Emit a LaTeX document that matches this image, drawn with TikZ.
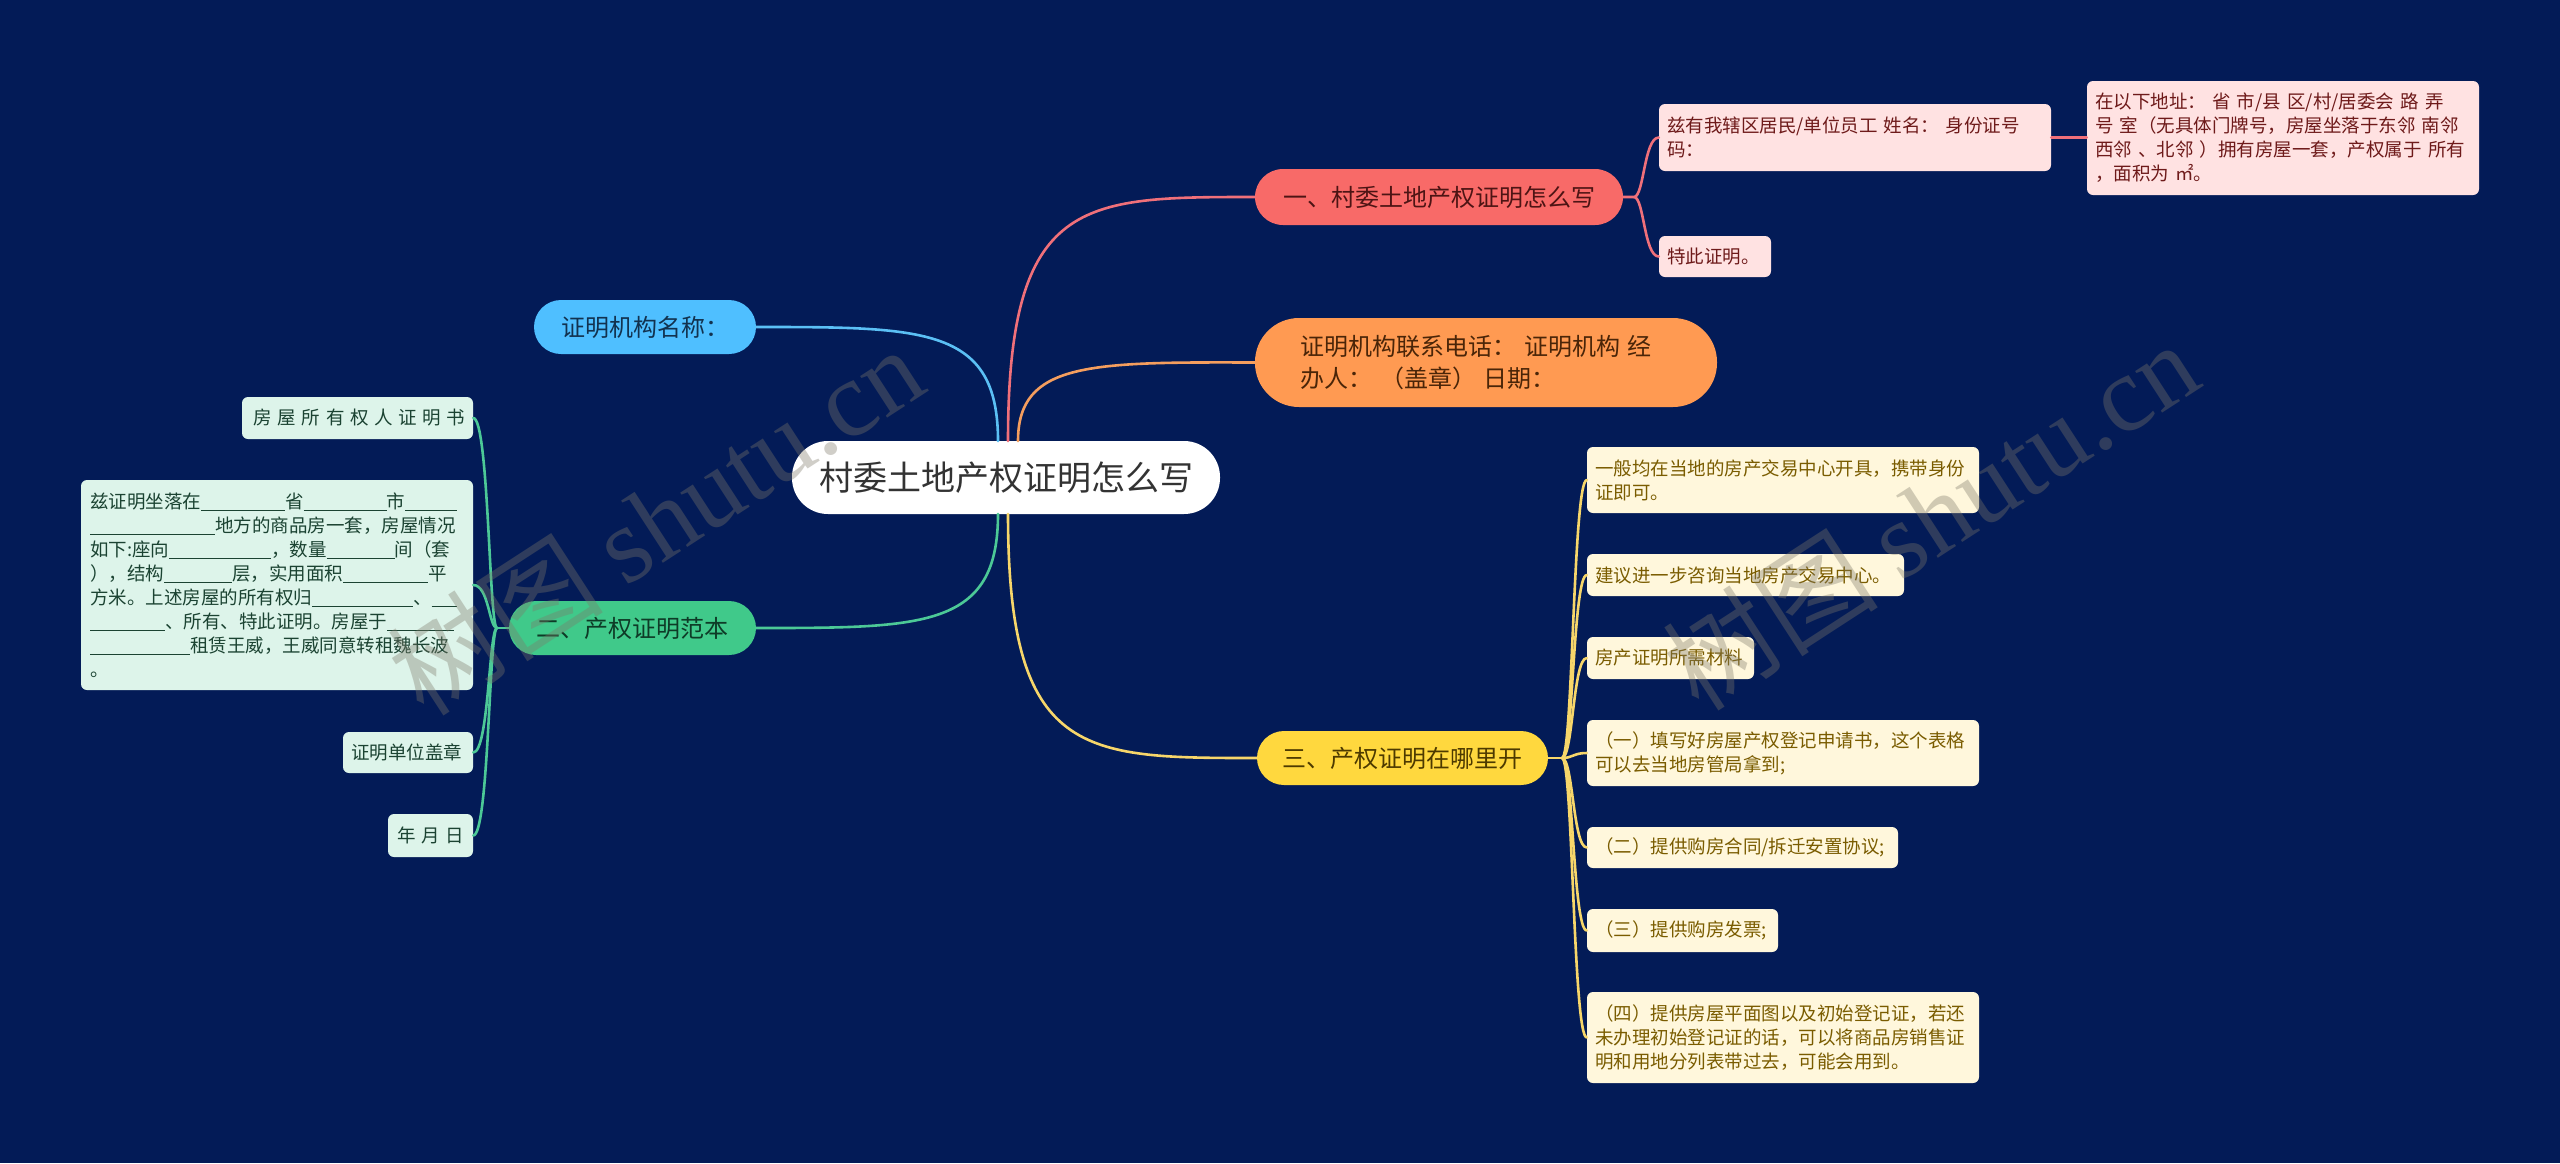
\documentclass[tikz,border=0pt]{standalone}
\usepackage{fontspec}
\setmainfont{Noto Sans CJK SC}
\newfontfamily\wmserif{Liberation Serif}
\definecolor{bg}{HTML}{031B57}
\definecolor{redmain}{HTML}{F86A68}
\definecolor{redtxt}{HTML}{4D1414}
\definecolor{redfill}{HTML}{FFE2E2}
\definecolor{redctxt}{HTML}{6E1A1A}
\definecolor{redline}{HTML}{F0707A}
\definecolor{orgmain}{HTML}{FF9A52}
\definecolor{orgtxt}{HTML}{4A2508}
\definecolor{orgline}{HTML}{F59E5E}
\definecolor{yelmain}{HTML}{FFD83E}
\definecolor{yeltxt}{HTML}{4D3A00}
\definecolor{yelfill}{HTML}{FFF7DC}
\definecolor{yelctxt}{HTML}{7A5C00}
\definecolor{yelline}{HTML}{F7D66A}
\definecolor{blumain}{HTML}{4FBFFF}
\definecolor{blutxt}{HTML}{12324F}
\definecolor{bluline}{HTML}{5BC0F5}
\definecolor{grnmain}{HTML}{40C98A}
\definecolor{grntxt}{HTML}{0E3B27}
\definecolor{grnfill}{HTML}{DDF4EA}
\definecolor{grnctxt}{HTML}{1B4332}
\definecolor{grnline}{HTML}{4CC997}
\definecolor{wmcol}{RGB}{125,120,105}
\newcommand\blank[1]{\rule[-2.5pt]{#1pt}{1pt}}
\newcommand\chsp{\hspace{5.6pt}}
\begin{document}
\begin{tikzpicture}[x=1pt,y=-1pt,
  pill/.style={inner ysep=0pt, align=center, font=\fontsize{24}{32}\selectfont},
  small/.style={inner xsep=8pt, inner ysep=0pt, align=left, rounded corners=6pt, font=\fontsize{18.5}{24}\selectfont},
  conn/.style={line width=2.6pt, line cap=round},
  wm/.style={text=wmcol, text opacity=0.36, rotate=33, font=\fontsize{108}{108}\selectfont}
]
\fill[bg] (0,0) rectangle (2560,1163);
\useasboundingbox (0,0) rectangle (2560,1163);

% central
\node[fill=white, rounded corners=36pt, minimum width=428pt, minimum height=73pt, inner sep=0pt,
  text=black!80, font=\fontsize{34}{40}\selectfont] (c) at (1006,477.5) {村委土地产权证明怎么写};

% main nodes
\node[pill, fill=redmain, text=redtxt, rounded corners=28pt, minimum width=368pt, minimum height=56pt] (n1) at (1439,197) {一、村委土地产权证明怎么写};
\node[pill, fill=orgmain, text=orgtxt, rounded corners=44pt, text width=372pt, inner xsep=45pt, minimum height=89pt, align=left] (n2) at (1486,362.5) {证明机构联系电话： 证明机构 经\\办人： （盖章） 日期：};
\node[pill, fill=yelmain, text=yeltxt, rounded corners=27pt, minimum width=291pt, minimum height=54pt] (n3) at (1402.5,758) {三、产权证明在哪里开};
\node[pill, fill=blumain, text=blutxt, rounded corners=27pt, minimum width=222pt, minimum height=54pt] (n4) at (645,327) {证明机构名称：};
\node[pill, fill=grnmain, text=grntxt, rounded corners=27pt, minimum width=247pt, minimum height=54pt] (n5) at (632.5,628) {二、产权证明范本};

% main connectors
\draw[conn, redline] (1008,441) .. controls (1008,197) and (1082,197) .. (n1.west);
\draw[conn, orgline] (1018,441) .. controls (1018,362) and (1090,362) .. (n2.west);
\draw[conn, bluline] (998,441) .. controls (998,327) and (925,327) .. (n4.east);
\draw[conn, grnline] (998,514) .. controls (998,628) and (925,628) .. (n5.east);
\draw[conn, yelline] (1008,514) .. controls (1008,758) and (1083,758) .. (n3.west);

% red children
\node[small, fill=redfill, text=redctxt, text width=376pt, minimum height=67pt] (r1) at (1855,137.5) {兹有我辖区居民/单位员工 姓名： 身份证号\\码：};
\node[small, fill=redfill, text=redctxt, text width=96pt, minimum height=41pt] (r2) at (1715,256.5) {特此证明。};
\node[small, fill=redfill, text=redctxt, text width=376pt, minimum height=114pt] (r3) at (2283,138) {在以下地址： 省 市/县 区/村/居委会 路 弄\\号 室（无具体门牌号，房屋坐落于东邻 南邻\\西邻 、北邻 ）拥有房屋一套，产权属于 所有\\，面积为 ㎡。};
\coordinate (rt) at (1634,197);
\draw[conn, redline] (n1.east) -- (rt) .. controls (1644,197) and (1644,137.5) .. (r1.west);
\draw[conn, redline] (rt) .. controls (1644,197) and (1644,256.5) .. (r2.west);
\draw[conn, redline] (r1.east) -- (r1.east -| r3.west);

% yellow children
\node[small, fill=yelfill, text=yelctxt, text width=376pt, minimum height=66pt] (y1) at (1783,480) {一般均在当地的房产交易中心开具，携带身份\\证即可。};
\node[small, fill=yelfill, text=yelctxt, text width=301pt, minimum height=42pt] (y2) at (1745.5,575) {建议进一步咨询当地房产交易中心。};
\node[small, fill=yelfill, text=yelctxt, text width=151pt, minimum height=42pt] (y3) at (1670.5,658) {房产证明所需材料};
\node[small, fill=yelfill, text=yelctxt, text width=376pt, minimum height=66pt] (y4) at (1783,753) {（一）填写好房屋产权登记申请书，这个表格\\可以去当地房管局拿到;};
\node[small, fill=yelfill, text=yelctxt, text width=295pt, minimum height=41pt] (y5) at (1742.5,847.5) {（二）提供购房合同/拆迁安置协议;};
\node[small, fill=yelfill, text=yelctxt, text width=175pt, minimum height=43pt] (y6) at (1682.5,930.5) {（三）提供购房发票;};
\node[small, fill=yelfill, text=yelctxt, text width=376pt, minimum height=91pt] (y7) at (1783,1037.5) {（四）提供房屋平面图以及初始登记证，若还\\未办理初始登记证的话，可以将商品房销售证\\明和用地分列表带过去，可能会用到。};
\coordinate (yt) at (1562,758);
\draw[conn, yelline] (n3.east) -- (yt);
\foreach \n in {y1,y2,y3,y4,y5,y6,y7}
  \draw[conn, yelline] (yt) .. controls (1573,758) and (1573,0 |- \n.west) .. (\n.west);

% green children
\node[small, fill=grnfill, text=grnctxt, text width=215pt, minimum height=42pt, align=right] (g1) at (357.5,418) {房\chsp 屋\chsp 所\chsp 有\chsp 权\chsp 人\chsp 证\chsp 明\chsp 书};
\node[small, fill=grnfill, text=grnctxt, text width=374pt, inner xsep=9pt, minimum height=210pt] (g2) at (277,585) {兹证明坐落在\blank{84}省\blank{83}市\blank{52}\\\blank{125}地方的商品房一套，房屋情况\\如下:座向\blank{102}，数量\blank{68}间（套\\），结构\blank{68}层，实用面积\blank{85}平\\方米。上述房屋的所有权归\blank{101}、\blank{25}\\\blank{75}、所有、特此证明。房屋于\blank{67}\\\blank{100}租赁王威，王威同意转租魏长波\\。};
\node[small, fill=grnfill, text=grnctxt, text width=114pt, minimum height=41pt] (g3) at (408,752.5) {证明单位盖章};
\node[small, fill=grnfill, text=grnctxt, text width=69pt, minimum height=43pt, align=center] (g4) at (430.5,835.5) {年\chsp 月\chsp 日};
\coordinate (gt) at (497,628);
\draw[conn, grnline] (n5.west) -- (gt);
\foreach \n in {g1,g2,g3,g4}
  \draw[conn, grnline] (gt) .. controls (489,628) and (489,0 |- \n.east) .. (\n.east);

% watermarks (drawn over the diagram, as in the reference)
\node[wm] (wm1) at (655,520) {树图 {\wmserif shutu.cn}};
\node[wm] (wm2) at (1930,515) {树图 {\wmserif shutu.cn}};
\end{tikzpicture}
\end{document}
